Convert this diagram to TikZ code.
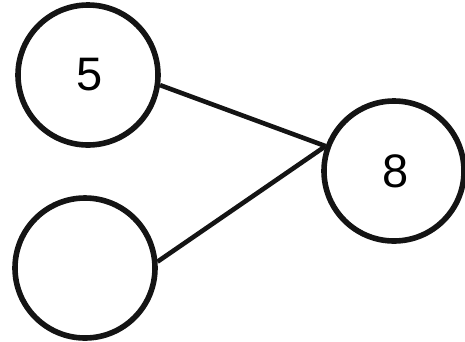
\documentclass[tikz,border=0pt]{standalone}
\usepackage{fontspec}
\setmainfont{Liberation Sans}
\begin{document}
\begin{tikzpicture}[x=1pt,y=-1pt,
  bubble/.style={circle,draw=black!92,line width=5.6pt,minimum size=140pt,inner sep=0pt,font=\fontsize{47}{50}\selectfont},
  link/.style={draw=black!92,line width=4.6pt}]
\useasboundingbox (0,0) rectangle (465,341);
\node[bubble] (a) at (88,75) {\raisebox{-6pt}{\kern3pt 5}};
\node[bubble] (b) at (85,268) {};
\node[bubble] (c) at (394,171) {\kern3pt 8};
\draw[link] (a.-8) -- (c.160);
\draw[link] (b.5) -- (c.160);
\end{tikzpicture}
\end{document}
